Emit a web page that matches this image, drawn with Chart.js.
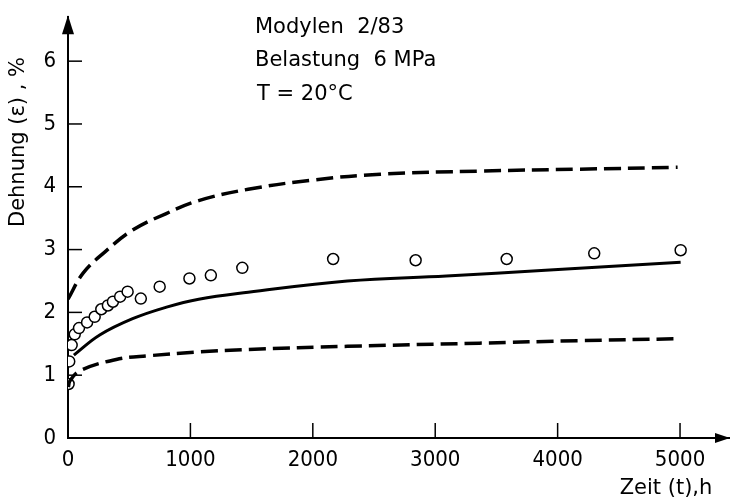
<!DOCTYPE html>
<html>
<head>
<meta charset="utf-8">
<script src="https://cdn.jsdelivr.net/npm/chart.js@4"></script>
<style>
  html, body { margin: 0; padding: 0; background: #fff; }
  #wrap { width: 736px; height: 503px; }
</style>
</head>
<body>
<div id="wrap"><canvas id="creepChart"></canvas></div>
<script>
// measured points (circles)
const obsTime   = [5, 10, 30, 55, 90, 156, 218, 272, 326, 367, 426, 487, 595, 749, 992, 1167, 1424, 2166, 2840, 3584, 4299, 5005];
const obsStrain = [0.86, 1.22, 1.48, 1.65, 1.75, 1.84, 1.93, 2.05, 2.11, 2.17, 2.25, 2.33, 2.22, 2.41, 2.54, 2.59, 2.71, 2.85, 2.83, 2.85, 2.94, 2.99];

// mean curve (solid)
const meanTime   = [48, 259, 528, 798, 1068, 1472, 2282, 3091, 3900, 5005];
const meanStrain = [1.32, 1.64, 1.90, 2.08, 2.21, 2.32, 2.50, 2.58, 2.67, 2.80];

// upper bound (dashed)
const upperTime   = [0, 125, 300, 528, 798, 1068, 1472, 2012, 2552, 3361, 4170, 4980];
const upperStrain = [2.21, 2.63, 2.96, 3.31, 3.57, 3.78, 3.96, 4.11, 4.20, 4.25, 4.28, 4.31];

// lower bound (dashed)
const lowerTime   = [3, 16, 97, 394, 663, 1068, 1472, 2282, 3361, 4170, 4980];
const lowerStrain = [0.81, 0.91, 1.07, 1.25, 1.31, 1.37, 1.41, 1.46, 1.51, 1.55, 1.58];

const xTicks = [0, 1000, 2000, 3000, 4000, 5000];
const yTicks = [0, 1, 2, 3, 4, 5, 6];

const infoLines = ['Modylen  2/83', 'Belastung  6 MPa', 'T = 20°C'];

const FONT = '"DejaVu Sans", sans-serif';
const TICK_FONT = '"DejaVu Sans Condensed", "DejaVu Sans", sans-serif';

function toXY(xs, ys) {
    return xs.map((x, i) => ({ x: x, y: ys[i] }));
}

// inward ticks, arrows and annotation text
const decorPlugin = {
    id: 'decor',
    afterDraw(chart) {
        const ctx = chart.ctx;
        const xs = chart.scales.x;
        const ys = chart.scales.y;
        const area = chart.chartArea;
        ctx.save();
        ctx.strokeStyle = '#000';
        ctx.fillStyle = '#000';
        ctx.lineWidth = 1.5;

        xTicks.forEach(v => {
            if (v === 0) return;
            const px = xs.getPixelForValue(v);
            ctx.beginPath();
            ctx.moveTo(px, area.bottom);
            ctx.lineTo(px, area.bottom - 15);
            ctx.stroke();
        });
        yTicks.forEach(v => {
            if (v === 0) return;
            const py = ys.getPixelForValue(v);
            ctx.beginPath();
            ctx.moveTo(area.left, py);
            ctx.lineTo(area.left + 14, py);
            ctx.stroke();
        });

        // arrow heads
        ctx.beginPath();
        ctx.moveTo(area.left, area.top - 2);
        ctx.lineTo(area.left - 6, area.top + 17);
        ctx.lineTo(area.left + 6, area.top + 17);
        ctx.closePath();
        ctx.fill();

        ctx.beginPath();
        ctx.moveTo(area.right + 1, area.bottom);
        ctx.lineTo(area.right - 14, area.bottom - 5);
        ctx.lineTo(area.right - 14, area.bottom + 5);
        ctx.closePath();
        ctx.fill();

        ctx.font = '21px ' + FONT;
        ctx.textBaseline = 'middle';
        ctx.textAlign = 'left';
        ctx.fillText(infoLines[0], 255, 28);
        ctx.fillText(infoLines[1], 255, 61);
        ctx.fillText(infoLines[2], 257, 95);

        ctx.textAlign = 'center';
        ctx.fillText('Zeit (t),h', 666, 489);

        ctx.translate(19, 142);
        ctx.rotate(-Math.PI / 2);
        ctx.fillText('Dehnung (ε) , %', 0, 0);
        ctx.restore();
    }
};

const dashStyle = {
    borderColor: '#000',
    borderWidth: 3.5,
    borderDash: [17, 7],
    pointRadius: 0,
    fill: false,
    showLine: true,
    tension: 0.4
};

new Chart(document.getElementById('creepChart'), {
    type: 'scatter',
    data: {
        datasets: [
            Object.assign({ data: toXY(upperTime, upperStrain) }, dashStyle),
            Object.assign({ data: toXY(lowerTime, lowerStrain) }, dashStyle),
            {
                data: toXY(meanTime, meanStrain),
                borderColor: '#000',
                borderWidth: 3,
                pointRadius: 0,
                showLine: true,
                fill: false,
                tension: 0.4
            },
            {
                data: toXY(obsTime, obsStrain),
                pointRadius: 5.5,
                pointBorderWidth: 1.5,
                pointBorderColor: '#000',
                pointBackgroundColor: '#fff',
                showLine: false
            }
        ]
    },
    options: {
        responsive: true,
        maintainAspectRatio: false,
        animation: false,
        layout: { padding: { top: 8, right: 0, left: 0, bottom: 0 } },
        plugins: {
            legend: { display: false },
            tooltip: { enabled: false }
        },
        scales: {
            x: {
                type: 'linear',
                min: 0,
                max: 5400,
                afterBuildTicks: scale => {
                    scale.ticks = xTicks.map(v => ({ value: v }));
                },
                afterFit: scale => { scale.height = 65; },
                grid: { display: false },
                border: { display: true, color: '#000', width: 2 },
                ticks: {
                    color: '#000',
                    padding: 1,
                    maxRotation: 0,
                    callback: v => String(v),
                    font: { family: TICK_FONT, size: 22 }
                }
            },
            y: {
                type: 'linear',
                min: 0,
                max: 6.7,
                afterBuildTicks: scale => {
                    scale.ticks = yTicks.map(v => ({ value: v }));
                },
                afterFit: scale => { scale.width = 68; },
                grid: { display: false },
                border: { display: true, color: '#000', width: 2 },
                ticks: {
                    color: '#000',
                    padding: 4,
                    callback: v => String(v),
                    font: { family: TICK_FONT, size: 22 }
                }
            }
        }
    },
    plugins: [decorPlugin]
});
</script>
</body>
</html>
